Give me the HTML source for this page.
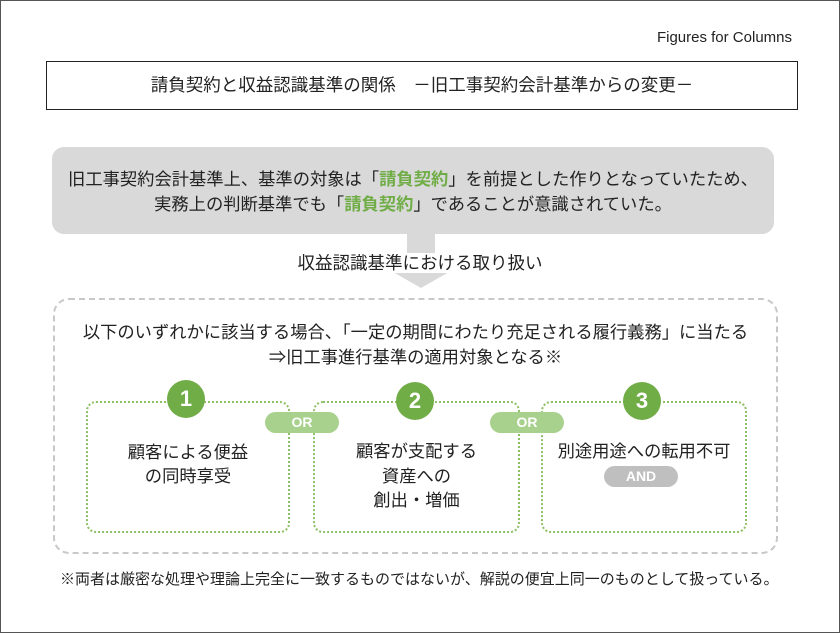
<!DOCTYPE html>
<html><head><meta charset="utf-8"><style>
body{margin:0;width:840px;height:633px;background:#fff;font-family:"Liberation Sans","Noto Sans CJK JP",sans-serif;color:#222;position:relative;overflow:hidden}
.a{position:absolute}
.c{text-align:center;white-space:nowrap}
.g{color:#70ad47;font-weight:bold}
</style></head><body>
<div class="a" style="left:0;top:0;width:838px;height:631px;border:1px solid #555"></div>
<div class="a" style="right:48px;top:29px;font-size:15px">Figures for Columns</div>
<div class="a c" style="left:46px;top:61px;width:750px;height:47px;border:1px solid #222;line-height:47px;font-size:17.5px">請負契約と収益認識基準の関係　－旧工事契約会計基準からの変更－</div>
<div class="a c" style="left:52px;top:147px;width:722px;height:87px;background:#d9d9d9;border-radius:12px;font-size:17.3px;line-height:25px;padding-top:20px;box-sizing:border-box">旧工事契約会計基準上、基準の対象は「<span class="g">請負契約</span>」を前提とした作りとなっていたため、<br>実務上の判断基準でも「<span class="g">請負契約</span>」であることが意識されていた。</div>
<div class="a" style="left:407px;top:234px;width:28px;height:40px;background:#d9d9d9"></div>
<div class="a" style="left:393px;top:272px;width:0;height:0;border-left:28px solid transparent;border-right:28px solid transparent;border-top:16px solid #d9d9d9"></div>
<div class="a c" style="left:270px;top:251px;width:300px;font-size:17.5px;line-height:24px"><span style="background:#fff;padding:0 2px">収益認識基準における取り扱い</span></div>
<div class="a" style="left:53px;top:298px;width:721px;height:252px;border:2px dashed #c8c8c8;border-radius:16px"></div>
<div class="a c" style="left:53px;top:320px;width:725px;font-size:17.3px;line-height:25px">以下のいずれかに該当する場合、「一定の期間にわたり充足される履行義務」に当たる<br>⇒旧工事進行基準の適用対象となる※</div>
<div class="a" style="left:86px;top:401px;width:200px;height:128px;border:2px dotted #8cc063;border-radius:10px"></div>
<div class="a" style="left:313px;top:401px;width:203px;height:128px;border:2px dotted #8cc063;border-radius:10px"></div>
<div class="a" style="left:541px;top:401px;width:202px;height:128px;border:2px dotted #8cc063;border-radius:10px"></div>
<div class="a c" style="left:167px;top:380px;width:38px;height:38px;border-radius:50%;background:#70ad47;color:#fff;font-weight:bold;font-size:22px;line-height:38px">1</div>
<div class="a c" style="left:396px;top:382px;width:38px;height:38px;border-radius:50%;background:#70ad47;color:#fff;font-weight:bold;font-size:22px;line-height:38px">2</div>
<div class="a c" style="left:623px;top:382px;width:38px;height:38px;border-radius:50%;background:#70ad47;color:#fff;font-weight:bold;font-size:22px;line-height:38px">3</div>
<div class="a c" style="left:265px;top:412px;width:74px;height:21px;border-radius:11px;background:#a9d18e;color:#fff;font-weight:bold;font-size:14px;line-height:21px">OR</div>
<div class="a c" style="left:490px;top:412px;width:74px;height:21px;border-radius:11px;background:#a9d18e;color:#fff;font-weight:bold;font-size:14px;line-height:21px">OR</div>
<div class="a c" style="left:604px;top:466px;width:74px;height:21px;border-radius:11px;background:#bfbfbf;color:#fff;font-weight:bold;font-size:14px;line-height:21px">AND</div>
<div class="a c" style="left:86px;top:440px;width:204px;font-size:17.3px;line-height:24px">顧客による便益<br>の同時享受</div>
<div class="a c" style="left:313px;top:439px;width:207px;font-size:17.3px;line-height:24.5px">顧客が支配する<br>資産への<br>創出・増価</div>
<div class="a c" style="left:541px;top:439px;width:206px;font-size:17.3px;line-height:24px">別途用途への転用不可</div>
<div class="a" style="left:60px;top:568px;font-size:15px;white-space:nowrap">※両者は厳密な処理や理論上完全に一致するものではないが、解説の便宜上同一のものとして扱っている。</div>
</body></html>
